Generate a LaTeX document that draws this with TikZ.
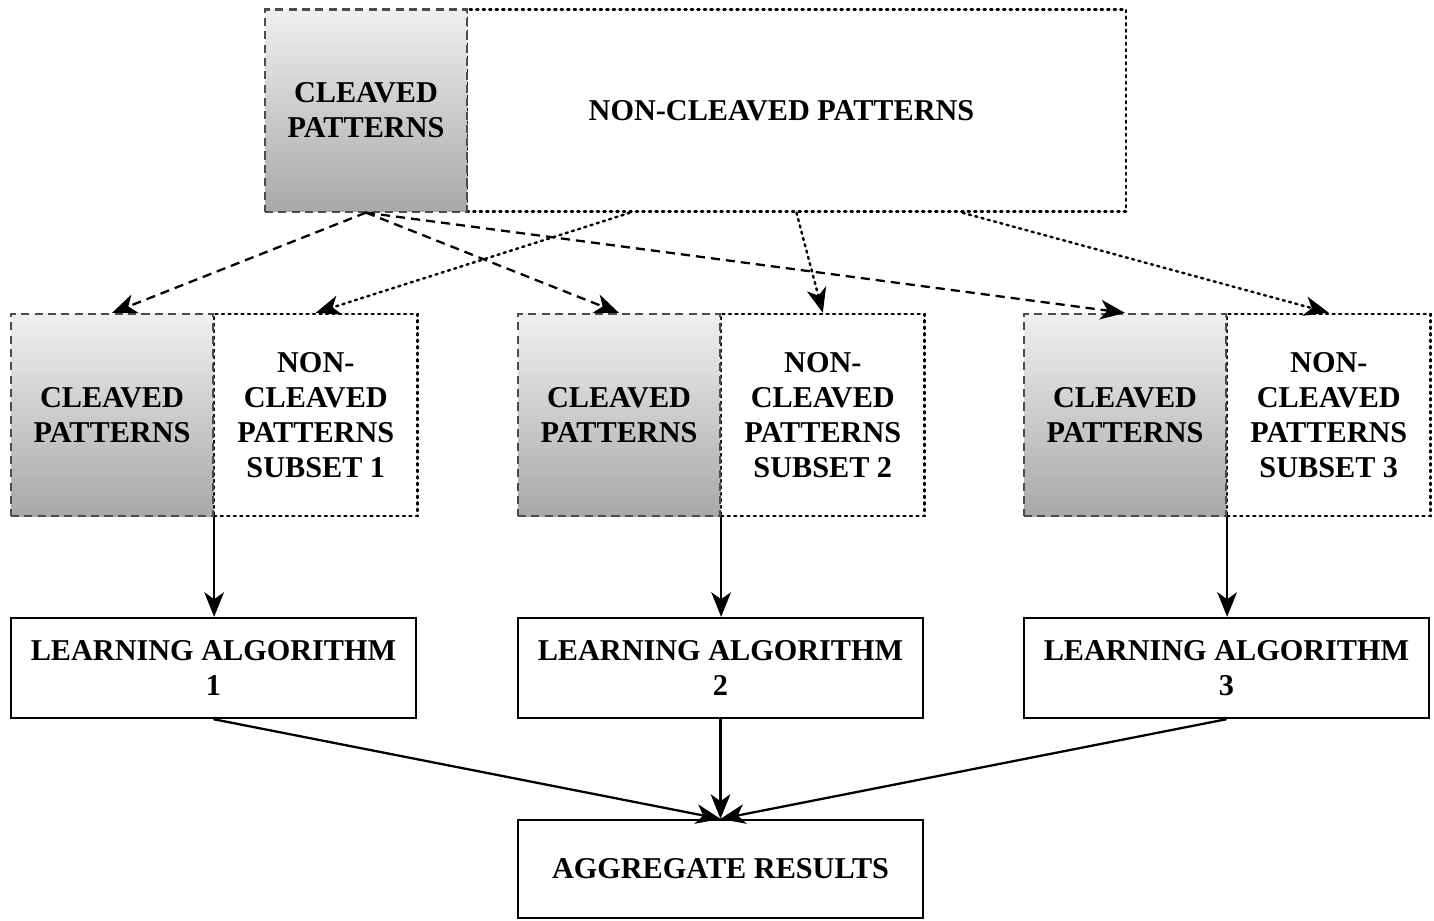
\documentclass[tikz,border=0pt]{standalone}
\usepackage{fontspec}
\setmainfont{Liberation Serif}
\usetikzlibrary{arrows.meta}
\usetikzlibrary{positioning,calc}

\begin{document}
\begin{tikzpicture}[x=0.01cm,y=-0.01cm,
    font=\fontsize{8.6}{10}\selectfont\bfseries,
    cleaved/.style={draw=black!70, dash pattern=on 2.3pt off 1.5pt, line width=0.6pt,
      top color=black!6, bottom color=black!34, inner sep=0pt, align=center,
      minimum width=2.02cm, minimum height=2.02cm},
    noncleaved/.style={draw=black, dash pattern=on 0.6pt off 1.25pt, line cap=round, line width=0.7pt,
      inner sep=0pt, align=center, minimum width=2.03cm, minimum height=2.02cm},
    algbox/.style={draw=black, line width=0.65pt, inner sep=0pt, align=center,
      minimum width=4.05cm, minimum height=1cm},
    tip/.style={-{Stealth[length=7pt,width=5.6pt,inset=2pt]}, line width=0.65pt}]

    \useasboundingbox (0,0) rectangle (1434,920);

    % draw top boxes
    \node[noncleaved, minimum width=6.59cm] (nc) at (796.5,110.5) {\hspace*{-0.3cm}NON-CLEAVED PATTERNS};
    \node[cleaved] (cl) at (366,110.5) {CLEAVED\\PATTERNS};

    % draw subset boxes
    \foreach \i/\xc in {1/112,2/619,3/1125} {
      \node[noncleaved, right=0pt of {(\xc+101,415)}] (nc\i) {NON-\\CLEAVED\\PATTERNS\\SUBSET \i};
      \node[cleaved] (cl\i) at (\xc,415) {CLEAVED\\PATTERNS};
      \node[algbox] (la\i) at (\xc+101.5,668) {LEARNING ALGORITHM\\\i};
    }

    % draw result box
    \node[algbox, minimum height=0.98cm] (agg) at (720.5,869) {AGGREGATE RESULTS};

    % points on the bottom of the non-cleaved patterns
    \coordinate (nca) at ($(nc.south west)!0.248!(nc.south east)$);
    \coordinate (ncb) at (nc.south);
    \coordinate (ncc) at ($(nc.south west)!0.751!(nc.south east)$);

    % draw dashed and dotted arrows
    \foreach \i in {1,2,3}
      \draw[tip, dash pattern=on 2.6pt off 1.7pt] (cl.south) -- (cl\i.north);
    \draw[tip, dash pattern=on 0.6pt off 1.25pt, line cap=round, line width=0.7pt] (nca) -- (nc1.north);
    \draw[tip, dash pattern=on 0.6pt off 1.25pt, line cap=round, line width=0.7pt] (ncb) -- (nc2.north);
    \draw[tip, dash pattern=on 0.6pt off 1.25pt, line cap=round, line width=0.7pt] (ncc) -- (nc3.north);

    % draw solid arrows
    \foreach \i in {1,2,3} {
      \draw[tip] (cl\i.south east) -- (cl\i.south east |- la\i.north);
      \draw[tip] (la\i.south) -- (agg.north);
    }
\end{tikzpicture}
\end{document}
